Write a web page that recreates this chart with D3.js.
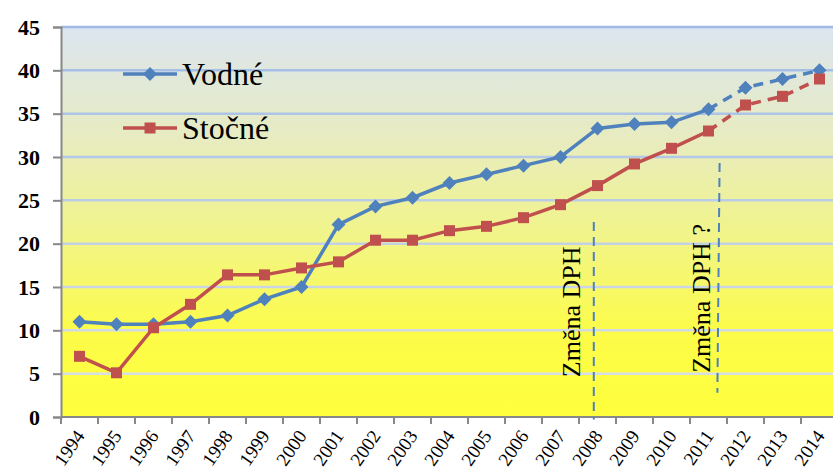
<!DOCTYPE html>
<html>
<head>
<meta charset="utf-8">
<script src="https://cdn.jsdelivr.net/npm/d3@7"></script>
<style>
  body { margin: 0; background: #fff; }
  svg { display: block; }
  svg text { font-family: "Liberation Serif", "DejaVu Serif", serif; }
</style>
</head>
<body>
<div id="container"></div>
<script>
var years = ['1994','1995','1996','1997','1998','1999','2000','2001','2002','2003','2004',
             '2005','2006','2007','2008','2009','2010','2011','2012','2013','2014'];
var vodne  = [11, 10.7, 10.7, 11, 11.7, 13.6, 15, 22.2, 24.3, 25.3, 27,
              28, 29, 30, 33.3, 33.8, 34, 35.5, 38, 39, 40];
var stocne = [7, 5.1, 10.3, 13, 16.4, 16.4, 17.2, 17.9, 20.4, 20.4, 21.5,
              22, 23, 24.5, 26.7, 29.2, 31, 33, 36, 37, 39];
var yTicks = [0, 5, 10, 15, 20, 25, 30, 35, 40, 45];
// index from which the series is a forecast (dashed)
var forecastFrom = 17;
// DPH change markers: [year at top, top value, bottom value, year at bottom]
var dphLines = [[2007.9, 22.5, -0.3, 2007.9], [2011.3, 29.3, 2.8, 2011.24]];
var dphLabels = [['Změna DPH', 2007.53, 4.6], ['Změna DPH ?', 2011.04, 5.1]];

var WIDTH = 833, HEIGHT = 474;
var plotLeft = 61, plotRight = 838, plotTop = 27, plotBottom = 417;
var BLUE = '#4f81bd', RED = '#c0504d', AXIS = '#888888';
var FONT = '"Liberation Serif", "DejaVu Serif", serif';

var svg = d3.select('#container').append('svg')
    .attr('width', WIDTH)
    .attr('height', HEIGHT);

var x = d3.scaleBand().domain(years).range([plotLeft, plotRight]).padding(0);
var y = d3.scaleLinear().domain([0, 45]).range([plotBottom, plotTop]);
// year number (can be fractional) -> pixel
var xYear = d3.scaleLinear().domain([1994, 2014])
    .range([x('1994') + x.bandwidth() / 2, x('2014') + x.bandwidth() / 2]);

// background gradient of the plot area
var grad = svg.append('defs').append('linearGradient')
    .attr('id', 'bg').attr('x1', 0).attr('y1', 0).attr('x2', 0).attr('y2', 1);
[[0, '#dbe5f0'], [0.3, '#e8ecbd'], [0.55, '#f2f585'], [0.78, '#fcfc4a'], [1, '#ffff3c']]
  .forEach(function(s) {
    grad.append('stop').attr('offset', s[0]).attr('stop-color', s[1]);
  });

svg.append('rect')
    .attr('x', plotLeft).attr('y', plotTop)
    .attr('width', plotRight - plotLeft).attr('height', plotBottom - plotTop)
    .attr('fill', 'url(#bg)');

// gridlines: blue at the top, fading to pale grey on the yellow
var gridColor = d3.scaleLinear().domain([45, 0]).range(['#9fbbe6', '#dfe2e8']);
svg.append('g').selectAll('line')
  .data(yTicks.filter(function(d) { return d > 0; }))
  .enter().append('line')
    .attr('x1', plotLeft).attr('x2', plotRight)
    .attr('y1', function(d) { return y(d); })
    .attr('y2', function(d) { return y(d); })
    .attr('stroke', function(d) { return gridColor(d); })
    .attr('stroke-width', 2.5);

// y axis
var yAxis = svg.append('g')
    .attr('transform', 'translate(' + plotLeft + ',0)')
    .call(d3.axisLeft(y).tickValues(yTicks).tickSize(8).tickPadding(13));
yAxis.attr('font-family', null);
yAxis.select('.domain').attr('stroke', AXIS).attr('stroke-width', 2);
yAxis.selectAll('.tick line').attr('stroke', AXIS).attr('stroke-width', 2);
yAxis.selectAll('.tick text')
    .attr('fill', '#000')
    .attr('font-family', FONT)
    .attr('font-size', 22)
    .attr('font-weight', 'bold');

// x axis: ticks at category boundaries
var xAxisG = svg.append('g').attr('transform', 'translate(0,' + plotBottom + ')');
xAxisG.append('line')
    .attr('x1', plotLeft).attr('x2', plotRight)
    .attr('stroke', AXIS).attr('stroke-width', 2);
xAxisG.selectAll('line.tk')
  .data(d3.range(years.length + 1))
  .enter().append('line')
    .attr('class', 'tk')
    .attr('x1', function(i) { return plotLeft + i * x.bandwidth(); })
    .attr('x2', function(i) { return plotLeft + i * x.bandwidth(); })
    .attr('y1', 0).attr('y2', 7)
    .attr('stroke', AXIS).attr('stroke-width', 2);
xAxisG.selectAll('text')
  .data(years)
  .enter().append('text')
    .attr('transform', function(d) {
      return 'translate(' + (x(d) + x.bandwidth() / 2 + 6) + ',19) rotate(-55)';
    })
    .attr('text-anchor', 'end')
    .attr('font-family', FONT)
    .attr('font-size', 19)
    .text(function(d) { return d; });

// DPH annotations
svg.append('g').selectAll('line')
  .data(dphLines)
  .enter().append('line')
    .attr('x1', function(d) { return xYear(d[0]); })
    .attr('x2', function(d) { return xYear(d[3]); })
    .attr('y1', function(d) { return y(d[1]); })
    .attr('y2', function(d) { return y(d[2]); })
    .attr('stroke', BLUE)
    .attr('stroke-width', 2)
    .attr('stroke-dasharray', '9,6');
svg.append('g').selectAll('text')
  .data(dphLabels)
  .enter().append('text')
    .attr('transform', function(d) {
      return 'translate(' + xYear(d[1]) + ',' + y(d[2]) + ') rotate(-90)';
    })
    .attr('font-family', FONT)
    .attr('font-size', 26)
    .text(function(d) { return d[0]; });

// marker shapes
var diamond = 'M0,-7L7,0L0,7L-7,0Z';
var square = 'M-5.5,-5.5H5.5V5.5H-5.5Z';

var series = [
  {name: 'Vodné', values: vodne, color: BLUE, marker: diamond},
  {name: 'Stočné', values: stocne, color: RED, marker: square}
];

var line = d3.line()
    .x(function(d) { return x(d.year) + x.bandwidth() / 2; })
    .y(function(d) { return y(d.value); });

series.forEach(function(s) {
  var pts = s.values.map(function(v, i) { return {year: years[i], value: v}; });
  var g = svg.append('g');
  g.append('path')
      .attr('d', line(pts.slice(0, forecastFrom + 1)))
      .attr('fill', 'none')
      .attr('stroke', s.color)
      .attr('stroke-width', 3.5);
  g.append('path')
      .attr('d', line(pts.slice(forecastFrom)))
      .attr('fill', 'none')
      .attr('stroke', s.color)
      .attr('stroke-width', 3.5)
      .attr('stroke-dasharray', '10,7');
  g.selectAll('path.m')
    .data(pts)
    .enter().append('path')
      .attr('class', 'm')
      .attr('transform', function(d) {
        return 'translate(' + (x(d.year) + x.bandwidth() / 2) + ',' + y(d.value) + ')';
      })
      .attr('d', s.marker)
      .attr('fill', s.color);
});

// legend
var legend = svg.append('g').selectAll('g')
  .data(series)
  .enter().append('g')
    .attr('transform', function(d, i) { return 'translate(123,' + (74 + i * 54) + ')'; });
legend.append('line')
    .attr('x1', 0).attr('x2', 54)
    .attr('stroke', function(d) { return d.color; })
    .attr('stroke-width', 3.5);
legend.append('path')
    .attr('transform', 'translate(27,0)')
    .attr('d', function(d) { return d.marker; })
    .attr('fill', function(d) { return d.color; });
legend.append('text')
    .attr('x', 59)
    .attr('dy', '0.33em')
    .attr('font-family', FONT)
    .attr('font-size', 32)
    .text(function(d) { return d.name; });
</script>
</body>
</html>
